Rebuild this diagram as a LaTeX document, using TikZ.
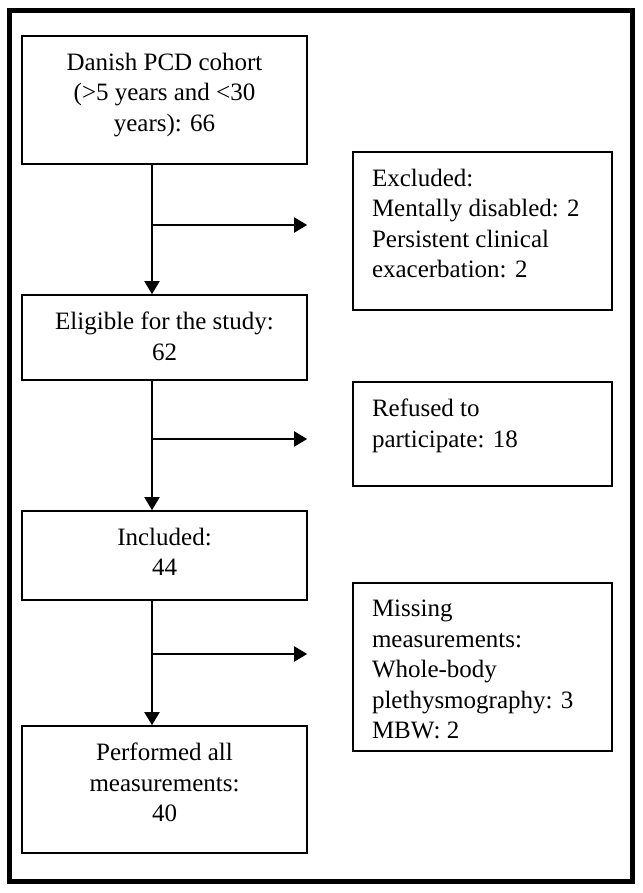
\documentclass[tikz,border=0pt]{standalone}
\usepackage{fontspec}
\setmainfont{Liberation Serif}
\usetikzlibrary{arrows.meta}
\tikzset{
  flowbox/.style={draw, line width=0.8pt, inner sep=0pt, font=\fontsize{12.5pt}{15.25pt}\selectfont},
  sidebox/.style={flowbox, inner xsep=9.5pt},
  flowarrow/.style={line width=1pt, -{Triangle[length=6.5pt,width=7.5pt]}}
}
% box bodies: fixed height, text from the top
\newcommand{\midtext}[2]{\parbox[c][#1][t]{142.5pt}{\centering\vspace*{8.5pt}#2}}
\newcommand{\sidetext}[2]{\parbox[c][#1][t]{110.5pt}{\raggedright\vspace*{8.5pt}#2}}
\begin{document}
\begin{tikzpicture}[x=0.5pt,y=-0.5pt]
\useasboundingbox (0,0) rectangle (642,893);
\draw[line width=2.2pt] (9.5,10.5) rectangle (632.5,881.5);
% main column
\node[flowbox] (cohort) at (164.5,100) {\midtext{64pt}{Danish PCD cohort\\(>5 years and <30\\years): 66}};
\node[flowbox] (elig) at (164.5,337.5) {\midtext{42.5pt}{Eligible for the study:\\62}};
\node[flowbox] (incl) at (164.5,555.5) {\midtext{44.5pt}{Included:\\44}};
\node[flowbox] (perf) at (164.5,789.5) {\midtext{63.5pt}{Performed all\\measurements:\\40}};
% side column
\node[sidebox] (excl) at (482.5,231) {\sidetext{79pt}{Excluded:\\Mentally disabled: 2\\Persistent clinical\\exacerbation: 2}};
\node[sidebox] (refused) at (482.5,434) {\sidetext{52pt}{Refused to\\participate: 18}};
\node[sidebox] (missing) at (482.5,667) {\sidetext{84pt}{Missing\\measurements:\\Whole-body\\plethysmography: 3\\MBW: 2}};
\foreach \a/\b in {cohort/elig, elig/incl, incl/perf}
  \draw[flowarrow] ([xshift=-6.25pt]\a.south) -- ([xshift=-6.25pt]\b.north);
\foreach \i/\y/\t in {1/225/excl, 2/439/refused, 3/654/missing} {
  \coordinate (split\i) at (152,\y);
  \draw[flowarrow, shorten >=22.5pt] (split\i) -- (split\i -| \t.west);
}
\end{tikzpicture}
\end{document}
